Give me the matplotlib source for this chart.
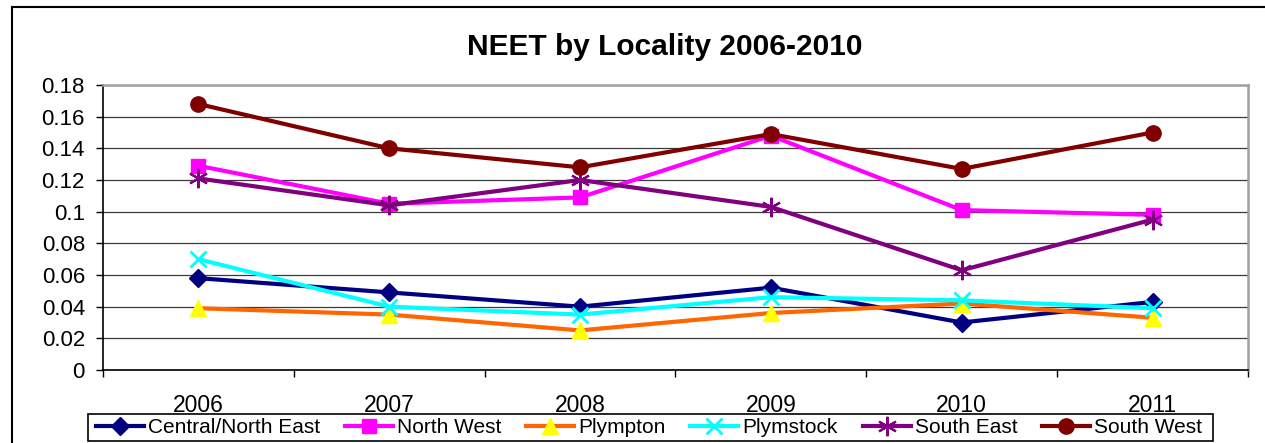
import matplotlib
matplotlib.use("Agg")
import matplotlib.pyplot as plt
from matplotlib.lines import Line2D
from matplotlib.patches import Rectangle
from matplotlib.ticker import FixedLocator, NullFormatter, FixedFormatter

plt.rcParams['font.family'] = ['Liberation Sans', 'DejaVu Sans']

years = ["2006", "2007", "2008", "2009", "2010", "2011"]
central_north_east = [0.058, 0.049, 0.040, 0.052, 0.030, 0.043]
north_west = [0.129, 0.105, 0.109, 0.148, 0.101, 0.098]
plympton = [0.039, 0.035, 0.025, 0.036, 0.042, 0.033]
plymstock = [0.070, 0.040, 0.035, 0.046, 0.044, 0.039]
south_east = [0.121, 0.104, 0.120, 0.103, 0.063, 0.095]
south_west = [0.168, 0.140, 0.128, 0.149, 0.127, 0.150]
yticks = [0, 0.02, 0.04, 0.06, 0.08, 0.1, 0.12, 0.14, 0.16, 0.18]
ytick_labels = ["0", "0.02", "0.04", "0.06", "0.08", "0.1", "0.12", "0.14", "0.16", "0.18"]

W, H = 1265, 443
fig = plt.figure(figsize=(W / 100, H / 100), dpi=100)
ax = fig.add_axes([103 / W, 1 - 370 / H, (1248 - 103) / W, (370 - 85) / H])

x = list(range(len(years)))
series = [
    ("Central/North East", central_north_east, dict(color="#000080", marker="D", markersize=9,
                                                    markerfacecolor="#000080", markeredgecolor="#000080")),
    ("North West", north_west, dict(color="#FF00FF", marker="s", markersize=10,
                                    markerfacecolor="#FF00FF", markeredgecolor="#FF00FF")),
    ("Plympton", plympton, dict(color="#FF6600", marker="^", markersize=12,
                                markerfacecolor="#FFFF00", markeredgecolor="#FFFF00")),
    ("Plymstock", plymstock, dict(color="#00FFFF", marker="x", markersize=12, markeredgewidth=2,
                                  markeredgecolor="#00FFFF")),
    ("South East", south_east, dict(color="#800080", marker=(6, 2, 0), markersize=14, markeredgewidth=1.6,
                                    markeredgecolor="#800080")),
    ("South West", south_west, dict(color="#800000", marker="o", markersize=11,
                                    markerfacecolor="#800000", markeredgecolor="#800000")),
]
for name, vals, style in series:
    ax.plot(x, vals, linewidth=3, label=name, zorder=3, **style)

ax.set_xlim(-0.5, len(years) - 0.5)
ax.set_ylim(0, 0.18)
ax.yaxis.set_major_locator(FixedLocator(yticks))
ax.yaxis.set_major_formatter(FixedFormatter(ytick_labels))
ax.grid(axis="y", color="#3a3a3a", linewidth=0.9, zorder=1)
ax.set_axisbelow(True)

ax.xaxis.set_major_locator(FixedLocator([i - 0.5 for i in range(len(years) + 1)]))
ax.xaxis.set_major_formatter(NullFormatter())
ax.xaxis.set_minor_locator(FixedLocator(x))
ax.xaxis.set_minor_formatter(FixedFormatter(years))
ax.tick_params(axis="x", which="major", direction="out", length=5, width=1, color="black")
ax.tick_params(axis="x", which="minor", length=0, pad=17, labelsize=16.5)
ax.tick_params(axis="y", direction="out", length=5, width=1, labelsize=16, pad=8)

for s in ("left", "bottom"):
    ax.spines[s].set_color("black")
    ax.spines[s].set_linewidth(1.2)
for s in ("top", "right"):
    ax.spines[s].set_color("#A0A0A0")
    ax.spines[s].set_linewidth(1.8)

fig.text(665 / W, 1 - 47 / H, "NEET by Locality 2006-2010", ha="center", va="center",
         fontsize=21.5, fontweight="bold")

# legend frame (box drawn separately to match the reference's padding)
fig.add_artist(Rectangle((88 / W, 1 - 441 / H), (1213 - 88) / W, (441 - 414) / H,
                         transform=fig.transFigure, facecolor="none", edgecolor="black",
                         linewidth=1.2, zorder=4))
leg = fig.legend(loc="center", bbox_to_anchor=(649 / W, 1 - 427.5 / H), ncol=6,
                 fontsize=15, frameon=False, handlelength=2.3, handletextpad=0.2,
                 columnspacing=1.19, borderpad=0, borderaxespad=0)
leg.set_zorder(5)

fig.add_artist(Line2D([12 / W, 12 / W], [0, 1 - 7 / H], color="black", linewidth=1.5,
                      transform=fig.transFigure))
fig.add_artist(Line2D([12 / W, 1], [1 - 7 / H, 1 - 7 / H], color="black", linewidth=1.5,
                      transform=fig.transFigure))

fig.savefig("out.png", dpi=100, facecolor="white")
